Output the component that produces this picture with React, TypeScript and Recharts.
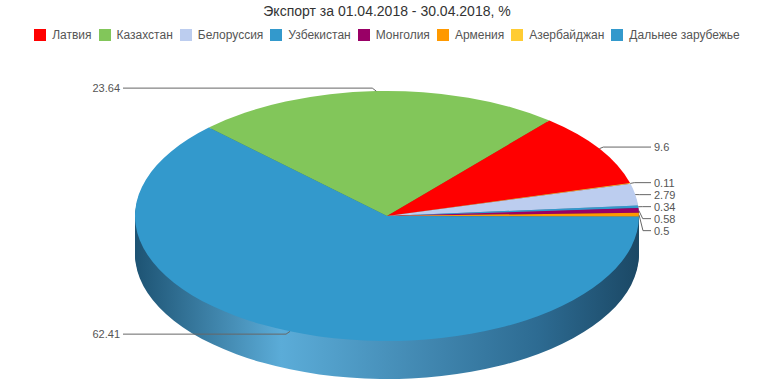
import React from 'react';
import { Cell, Pie, PieChart } from 'recharts';

const TITLE = 'Экспорт за 01.04.2018 - 30.04.2018, %';
const COUNTRIES = [
  'Латвия',
  'Казахстан',
  'Белоруссия',
  'Узбекистан',
  'Монголия',
  'Армения',
  'Азербайджан',
  'Дальнее зарубежье',
];
const SHARES = [9.6, 23.64, 2.79, 0.34, 0.58, 0.5, 0.11, 62.41];
const COLORS = ['#ff0000', '#82c65a', '#bccdef', '#3399cc', '#990066', '#ff9900', '#ffcc33', '#3399cc'];
const SIDE_COLORS = ['#a00000', '#55883a', '#7c8bab', '#1f5f80', '#5c003d', '#b36b00', '#b38f24', 'url(#side-blue)'];
// order in which the slices go round the pie, clockwise from upper left
const PIE_ORDER = [1, 0, 6, 2, 3, 4, 5, 7];

const W = 774;
const H = 387;
const CX = 387;
const CY = 216;
const RX = 252;
const K = 0.496; // tilt: vertical squash of the disc
const RY = RX * K;
const DEPTH = 38;
const START = 135;
const END = -225;
const FONT = '"Liberation Sans", Arial, Helvetica, sans-serif';

const pieData = PIE_ORDER.map((i) => ({ name: COUNTRIES[i], value: SHARES[i], src: i }));

// label rows: spread so that neighbouring labels keep 12px apart
const labelY = (() => {
  const total = pieData.reduce((s, d) => s + d.value, 0);
  let acc = 0;
  const items = pieData.map((d, i) => {
    const mid = START + ((END - START) * (acc + d.value / 2)) / total;
    acc += d.value;
    const s = Math.sin((mid * Math.PI) / 180);
    const c = Math.cos((mid * Math.PI) / 180);
    return { i, right: c >= 0, y: CY - RY * s - 3 * s };
  });
  const out: number[] = [];
  [true, false].forEach((side) => {
    const group = items.filter((it) => it.right === side).sort((a, b) => a.y - b.y);
    let prev = -Infinity;
    group.forEach((it) => {
      const y = Math.max(it.y, prev + 12);
      out[it.i] = y;
      prev = y;
    });
  });
  return out;
})();

const renderLabel = (p: any) => {
  const rad = (-p.midAngle * Math.PI) / 180;
  const ex = p.cx + RX * Math.cos(rad);
  const ey = p.cy + RY * Math.sin(rad);
  const sign = Math.cos(rad) >= 0 ? 1 : -1;
  const idx = typeof p.index === 'number' ? p.index : pieData.findIndex((d) => d.name === p.name);
  const y = labelY[idx];
  const tx = p.cx + sign * 267;
  return (
    <g key={`lbl-${idx}`}>
      <polyline
        points={`${ex},${ey} ${ex + sign * 4},${y} ${tx - sign * 3},${y}`}
        fill="none"
        stroke="#666666"
        strokeWidth={1}
      />
      <text
        x={tx}
        y={y}
        dy="0.35em"
        textAnchor={sign > 0 ? 'start' : 'end'}
        fill="#555555"
        fontSize={11}
        fontFamily={FONT}
      >
        {p.value}
      </text>
    </g>
  );
};

const sideLayers: number[] = [];
for (let d = DEPTH; d >= 1; d -= 2) sideLayers.push(d);

// only the sector paths are squashed (the class also lands on the pie group)
const css = `
body{margin:0}
path.pie-top{transform-origin:${CX}px ${CY}px;transform:scaleY(${K})}
${sideLayers
  .map((d) => `path.pie-side-${d}{transform-origin:${CX}px ${CY}px;transform:translateY(${d}px) scaleY(${K})}`)
  .join('\n')}
`;

export default function App() {
  return (
    <div style={{ position: 'relative', width: W, height: H, fontFamily: FONT, background: '#fff' }}>
      <style>{css}</style>
      <div
        style={{
          position: 'absolute',
          top: 3,
          left: 0,
          width: W,
          textAlign: 'center',
          fontSize: 14,
          color: '#333333',
        }}
      >
        {TITLE}
      </div>
      <div
        style={{
          position: 'absolute',
          top: 28,
          left: 0,
          width: W,
          display: 'flex',
          justifyContent: 'center',
          fontSize: 12,
          lineHeight: '14px',
          color: '#555555',
          whiteSpace: 'nowrap',
        }}
      >
        {COUNTRIES.map((name, i) => (
          <div key={name} style={{ display: 'flex', alignItems: 'center', margin: '0 3.5px' }}>
            <span style={{ width: 12, height: 12, background: COLORS[i], marginRight: 6 }} />
            <span>{name}</span>
          </div>
        ))}
      </div>
      <div style={{ position: 'absolute', top: 0, left: 0 }}>
        <PieChart width={W} height={H} margin={{ top: 0, right: 0, bottom: 0, left: 0 }}>
          <defs>
            <linearGradient id="side-blue" gradientUnits="userSpaceOnUse" x1={CX - RX} y1={0} x2={CX + RX} y2={0}>
              <stop offset="0" stopColor="#1d5373" />
              <stop offset="0.29" stopColor="#5bacd8" />
              <stop offset="0.8" stopColor="#2d6b92" />
              <stop offset="1" stopColor="#1b4865" />
            </linearGradient>
          </defs>
          {sideLayers.map((d) => (
            <Pie
              key={`side-${d}`}
              className={`pie-side-${d}`}
              data={pieData}
              dataKey="value"
              nameKey="name"
              cx={CX}
              cy={CY}
              outerRadius={RX}
              startAngle={START}
              endAngle={END}
              stroke="none"
              isAnimationActive={false}
            >
              {pieData.map((e) => (
                <Cell key={e.name} fill={SIDE_COLORS[e.src]} />
              ))}
            </Pie>
          ))}
          <Pie
            className="pie-top"
            data={pieData}
            dataKey="value"
            nameKey="name"
            cx={CX}
            cy={CY}
            outerRadius={RX}
            startAngle={START}
            endAngle={END}
            stroke="none"
            isAnimationActive={false}
          >
            {pieData.map((e) => (
              <Cell key={e.name} fill={COLORS[e.src]} />
            ))}
          </Pie>
          <Pie
            data={pieData}
            dataKey="value"
            nameKey="name"
            cx={CX}
            cy={CY}
            outerRadius={RX}
            startAngle={START}
            endAngle={END}
            fill="transparent"
            stroke="none"
            label={renderLabel}
            labelLine={false}
            isAnimationActive={false}
          />
        </PieChart>
      </div>
    </div>
  );
}
